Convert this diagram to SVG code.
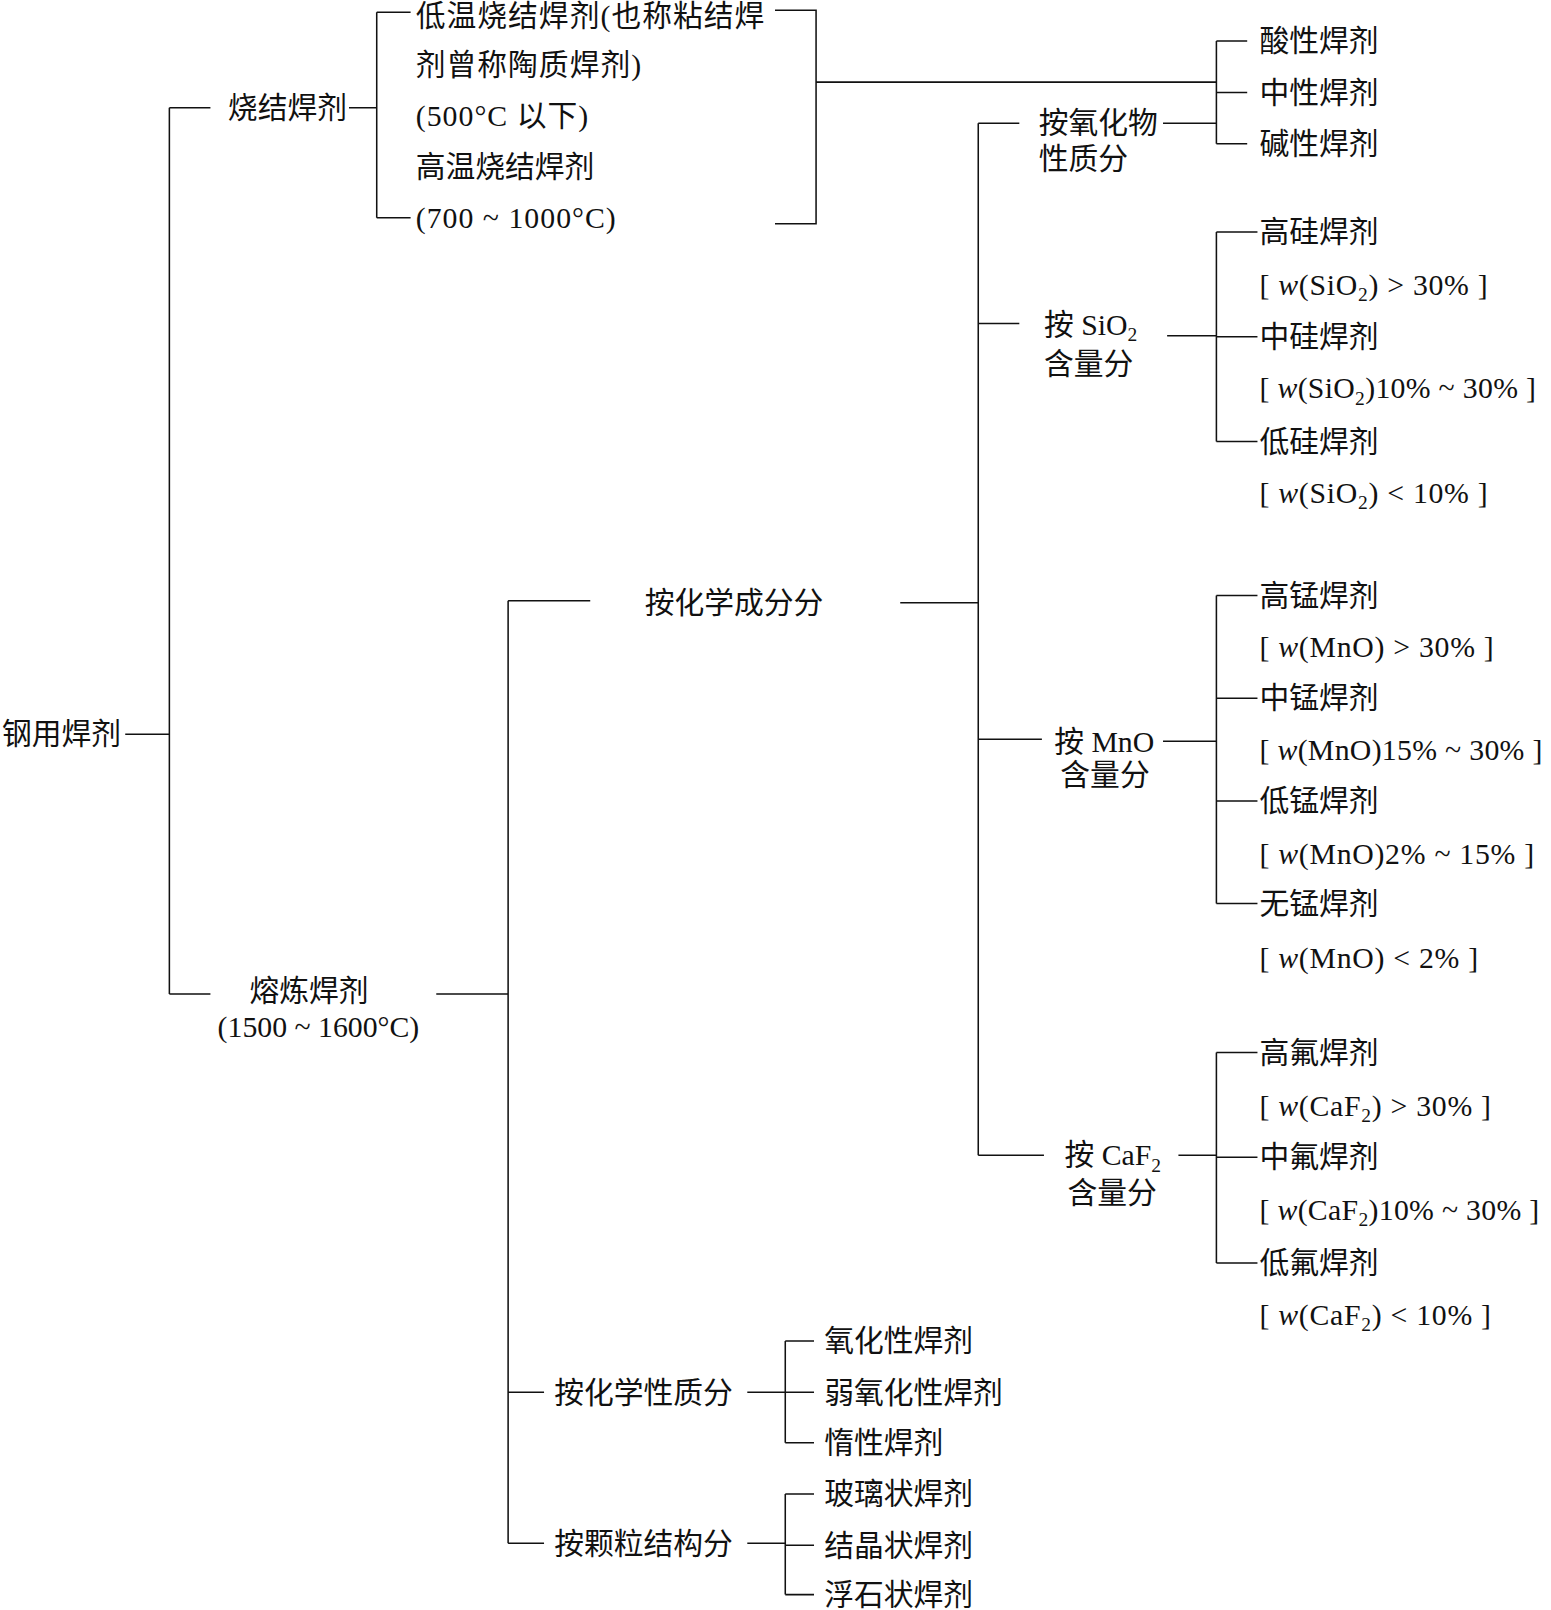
<svg xmlns="http://www.w3.org/2000/svg" width="1551" height="1610" viewBox="0 0 1551 1610">
<style>
text{font-family:"Liberation Serif","Noto Sans CJK SC",serif;font-size:29px;fill:#111}
.c path{fill:none;stroke:#111;stroke-width:1.5}
.i{font-style:italic}
.s{font-size:19px}
.b{letter-spacing:1px}
.n{letter-spacing:0.7px}
.w{letter-spacing:0.3px}
</style>
<rect width="1551" height="1610" fill="#fff"/>
<g transform="scale(1.0265,1.0268)">
<g class="c" id="connectors">
<path d="M122,715H165M165,105V968M165,105H205M165,968H205"/>
<path d="M340,105H367M367,12V212M367,12H400M367,212H400"/>
<path d="M755,10H795V218H755M795,80H1185M1185,40V140M1185,40H1215M1185,90H1215M1185,140H1215M1133,120H1185"/>
<path d="M953,120V1125M953,120H993M953,315H993M877,587H953M953,720H1015M953,1125H1017"/>
<path d="M1137,327H1185M1185,226V430M1185,226H1225M1185,328H1225M1185,430H1225"/>
<path d="M1133,722H1185M1185,580V880M1185,580H1225M1185,680H1225M1185,780H1225M1185,880H1225"/>
<path d="M1148,1125H1185M1185,1025V1230M1185,1025H1225M1185,1127H1225M1185,1230H1225"/>
<path d="M425,968H495M495,585V1503M495,585H575M495,1356H530M495,1503H530"/>
<path d="M728,1356H765M765,1306V1405M765,1306H793M765,1356H793M765,1405H793"/>
<path d="M728,1503H765M765,1455V1553M765,1455H793M765,1505H793M765,1553H793"/>
</g>
<g id="root"><text x="2" y="725">钢用焊剂</text></g>
<g id="sinter"><text x="222" y="115">烧结焊剂</text></g>
<g id="sinter-types">
<text x="405" y="25" class="b">低温烧结焊剂(也称粘结焊</text>
<text x="405" y="73" class="b">剂曾称陶质焊剂)</text>
<text x="405" y="123" class="b">(500°C 以下)</text>
<text x="405" y="172">高温烧结焊剂</text>
<text x="405" y="222" class="b">(700 ~ 1000°C)</text>
</g>
<g id="acid"><text x="1227" y="50">酸性焊剂</text></g>
<g id="neutral"><text x="1227" y="100">中性焊剂</text></g>
<g id="basic"><text x="1227" y="150">碱性焊剂</text></g>
<g id="by-oxide"><text x="1012" y="130">按氧化物</text><text x="1012" y="165">性质分</text></g>
<g id="by-sio2"><text x="1017" y="326">按 SiO<tspan class="s" dy="6">2</tspan></text><text x="1017" y="364">含量分</text></g>
<g id="high-si"><text x="1227" y="236">高硅焊剂</text><text x="1227" y="287" class="n">[ <tspan class="i">w</tspan>(SiO<tspan class="s" dy="6">2</tspan><tspan dy="-6">) &gt; 30% ]</tspan></text></g>
<g id="mid-si"><text x="1227" y="338">中硅焊剂</text><text x="1227" y="388" class="w">[ <tspan class="i">w</tspan>(SiO<tspan class="s" dy="6">2</tspan><tspan dy="-6">)10% ~ 30% ]</tspan></text></g>
<g id="low-si"><text x="1227" y="440">低硅焊剂</text><text x="1227" y="490" class="n">[ <tspan class="i">w</tspan>(SiO<tspan class="s" dy="6">2</tspan><tspan dy="-6">) &lt; 10% ]</tspan></text></g>
<g id="by-chem"><text x="628" y="597">按化学成分分</text></g>
<g id="by-mno"><text x="1027" y="732">按 MnO</text><text x="1033" y="765">含量分</text></g>
<g id="high-mn"><text x="1227" y="590">高锰焊剂</text><text x="1227" y="640" class="n">[ <tspan class="i">w</tspan>(MnO) &gt; 30% ]</text></g>
<g id="mid-mn"><text x="1227" y="690">中锰焊剂</text><text x="1227" y="740" class="w">[ <tspan class="i">w</tspan>(MnO)15% ~ 30% ]</text></g>
<g id="low-mn"><text x="1227" y="790">低锰焊剂</text><text x="1227" y="841" class="n">[ <tspan class="i">w</tspan>(MnO)2% ~ 15% ]</text></g>
<g id="no-mn"><text x="1227" y="890">无锰焊剂</text><text x="1227" y="943" class="n">[ <tspan class="i">w</tspan>(MnO) &lt; 2% ]</text></g>
<g id="by-caf2"><text x="1037" y="1135">按 CaF<tspan class="s" dy="6">2</tspan></text><text x="1040" y="1172">含量分</text></g>
<g id="high-f"><text x="1227" y="1035">高氟焊剂</text><text x="1227" y="1087" class="n">[ <tspan class="i">w</tspan>(CaF<tspan class="s" dy="6">2</tspan><tspan dy="-6">) &gt; 30% ]</tspan></text></g>
<g id="mid-f"><text x="1227" y="1137">中氟焊剂</text><text x="1227" y="1188" class="w">[ <tspan class="i">w</tspan>(CaF<tspan class="s" dy="6">2</tspan><tspan dy="-6">)10% ~ 30% ]</tspan></text></g>
<g id="low-f"><text x="1227" y="1240">低氟焊剂</text><text x="1227" y="1290" class="n">[ <tspan class="i">w</tspan>(CaF<tspan class="s" dy="6">2</tspan><tspan dy="-6">) &lt; 10% ]</tspan></text></g>
<g id="smelt"><text x="243" y="975">熔炼焊剂</text><text x="212" y="1010">(1500 ~ 1600°C)</text></g>
<g id="by-chem-prop"><text x="540" y="1366">按化学性质分</text></g>
<g id="oxid"><text x="803" y="1316">氧化性焊剂</text></g>
<g id="weak-oxid"><text x="803" y="1366">弱氧化性焊剂</text></g>
<g id="inert"><text x="803" y="1415">惰性焊剂</text></g>
<g id="by-grain"><text x="540" y="1513">按颗粒结构分</text></g>
<g id="glassy"><text x="803" y="1465">玻璃状焊剂</text></g>
<g id="crystal"><text x="803" y="1515">结晶状焊剂</text></g>
<g id="pumice"><text x="803" y="1563">浮石状焊剂</text></g>
</g>
</svg>
